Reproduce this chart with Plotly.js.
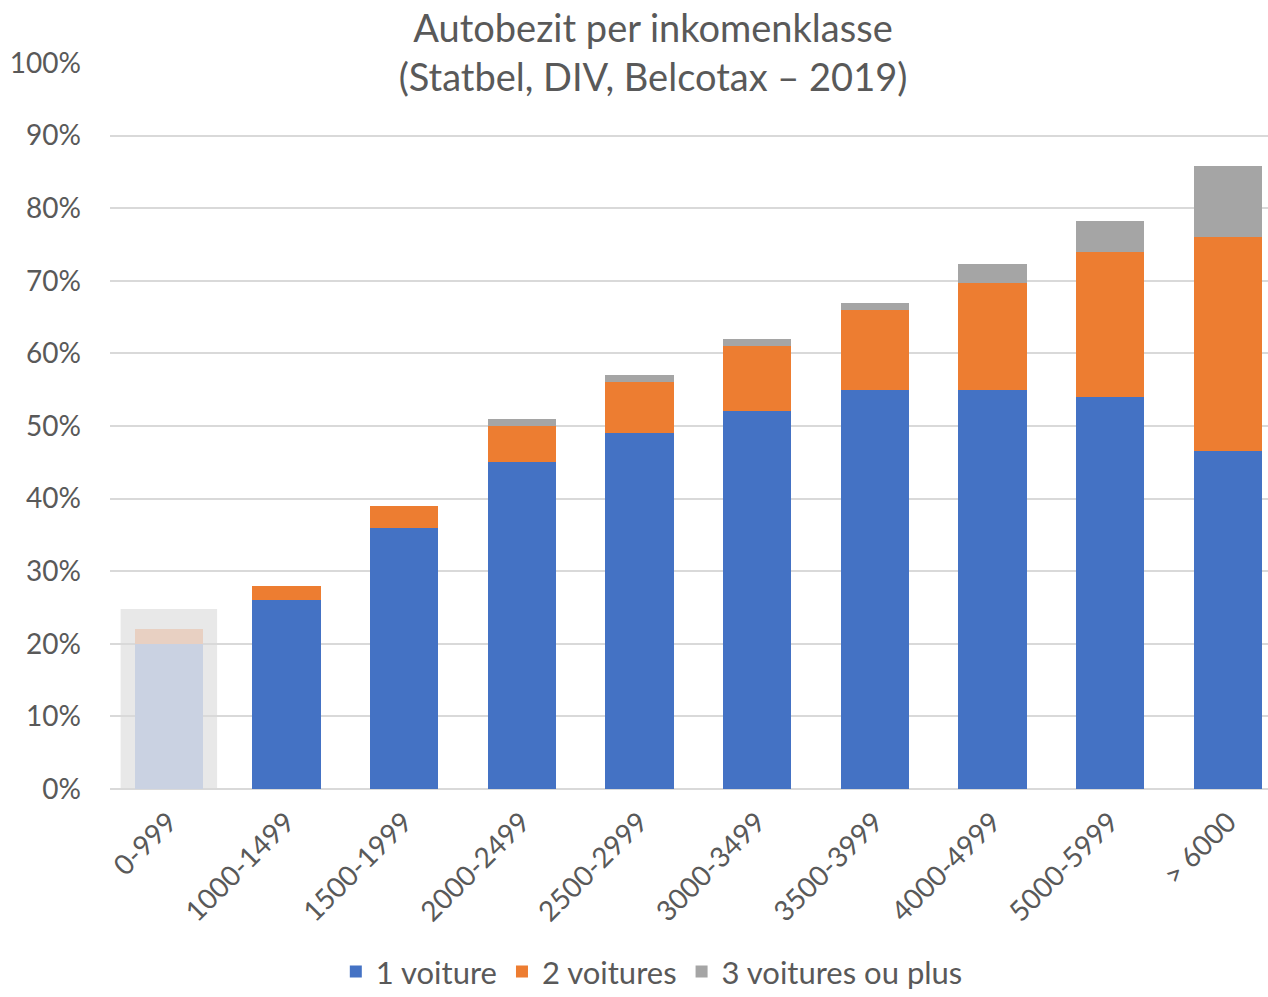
<!DOCTYPE html>
<html>
<head>
<meta charset="utf-8">
<script src="https://cdn.plot.ly/plotly-3.0.1.min.js"></script>
<style>html,body{margin:0;padding:0;background:#fff;}#chart{width:1268px;height:997px;}</style>
</head>
<body>
<div id="chart"></div>
<script>
const categories = ["0-999","1000-1499","1500-1999","2000-2499","2500-2999","3000-3499","3500-3999","4000-4999","5000-5999","> 6000"];
const oneCar = [20, 26, 36, 45, 49, 52, 55, 55, 54, 46.6];
const twoCars = [2, 2, 3, 5, 7, 9, 11, 14.7, 20, 29.4];
const threePlus = [0, 0, 0, 1, 1, 1, 1, 2.6, 4.3, 9.8];
const seriesNames = ["1 voiture", "2 voitures", "3 voitures ou plus"];
const seriesColors = ['#4472C4', '#ED7D31', '#A5A5A5'];
const fadedColors = ['#CAD2E2', '#E8D0C2', '#DADADA'];
const tickVals = [0,10,20,30,40,50,60,70,80,90,100];
const tickText = tickVals.map(v => v + "%");

const fontFam = "Lato, 'Open Sans', sans-serif";
const allSeries = [oneCar, twoCars, threePlus];

const traces = [];
allSeries.forEach((vals, s) => {
  traces.push({name: seriesNames[s], x: categories.slice(1), y: vals.slice(1), type: 'bar',
    marker: {color: seriesColors[s]}, legendgroup: 'g' + s});
  traces.push({name: seriesNames[s], x: categories.slice(0, 1), y: vals.slice(0, 1), type: 'bar',
    marker: {color: fadedColors[s]}, showlegend: false, legendgroup: 'g' + s});
});

const layout = {
  width: 1268, height: 997,
  barmode: 'stack',
  bargap: 0.42,
  paper_bgcolor: '#ffffff',
  plot_bgcolor: 'rgba(0,0,0,0)',
  margin: {l: 110, r: 0, t: 63, b: 208, autoexpand: false},
  font: {family: fontFam, color: '#595959', size: 28},
  title: {
    text: "Autobezit per inkomenklasse<br>(Statbel, DIV, Belcotax – 2019)",
    font: {family: fontFam, size: 38, color: '#595959'},
    x: 0.515, xref: 'container', xanchor: 'center',
    y: 0.958, yref: 'container', yanchor: 'middle',
    automargin: false
  },
  xaxis: {
    type: 'category',
    categoryorder: 'array', categoryarray: categories,
    range: [-0.5, 9.34],
    tickangle: -45,
    tickfont: {family: fontFam, size: 28, color: '#595959'},
    ticklabelstandoff: 10,
    showgrid: false,
    showline: false,
    ticks: '',
    automargin: false,
    fixedrange: true
  },
  yaxis: {
    range: [0, 100],
    tickvals: tickVals,
    ticktext: tickText,
    tickfont: {family: fontFam, size: 28, color: '#595959'},
    gridcolor: '#D9D9D9',
    gridwidth: 2,
    zeroline: true,
    zerolinecolor: '#D9D9D9',
    zerolinewidth: 2,
    showline: false,
    ticks: '',
    ticklabelstandoff: 28,
    automargin: false,
    fixedrange: true
  },
  shapes: [{
    type: 'rect', layer: 'below',
    xref: 'x', yref: 'y',
    x0: -0.41, x1: 0.41, y0: -1.65, y1: 24.8,
    fillcolor: '#E8E8E8', line: {width: 0}
  }],
  legend: {
    orientation: 'h',
    x: 0.195, xanchor: 'left',
    y: -0.252, yanchor: 'middle',
    font: {family: fontFam, size: 31, color: '#595959'},
    itemclick: false, itemdoubleclick: false,
    traceorder: 'normal'
  },
  showlegend: true
};

Plotly.newPlot('chart', traces, layout, {displayModeBar: false, staticPlot: true});
</script>
</body>
</html>
